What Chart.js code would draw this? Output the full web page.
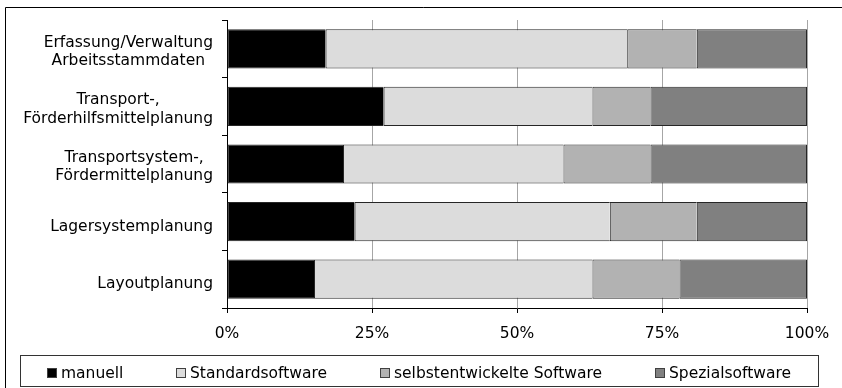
<!DOCTYPE html>
<html>
<head>
<meta charset="utf-8">
<script src="https://cdn.jsdelivr.net/npm/chart.js@4/dist/chart.umd.min.js"></script>
<style>
  html, body { margin: 0; padding: 0; background: #fff; overflow: hidden; }
  canvas { display: block; }
</style>
</head>
<body>
<canvas id="chart" width="842" height="388"></canvas>
<script>
// Planning tasks (one bar each) and the share of each tool type, in percent
const categories = [
  ['Erfassung/Verwaltung', 'Arbeitsstammdaten'],
  ['Transport-,', 'Förderhilfsmittelplanung'],
  ['Transportsystem-,', 'Fördermittelplanung'],
  ['Lagersystemplanung'],
  ['Layoutplanung']
];
const seriesNames = ['manuell', 'Standardsoftware', 'selbstentwickelte Software', 'Spezialsoftware'];
const manuell          = [17, 27, 20, 22, 15];
const standardsoftware = [52, 36, 38, 44, 48];
const selbstentwickelt = [12, 10, 15, 15, 15];
const spezialsoftware  = [19, 27, 27, 19, 22];
const xTicks = [0, 25, 50, 75, 100];

const seriesColors = ['#000000', '#dcdcdc', '#b2b2b2', '#808080'];
const FONT_FAMILY = 'DejaVu Sans, Verdana, sans-serif';
const FONT_SIZE = 15.5;
const FONT = FONT_SIZE + 'px ' + FONT_FAMILY;

Chart.defaults.font.family = FONT_FAMILY;
Chart.defaults.font.size = FONT_SIZE;
Chart.defaults.color = '#000';

// White page, outer frame (top and left edges)
const framePlugin = {
  id: 'frame',
  beforeDraw(chart) {
    const ctx = chart.ctx;
    ctx.save();
    ctx.fillStyle = '#fff';
    ctx.fillRect(0, 0, chart.width, chart.height);
    ctx.strokeStyle = '#000';
    ctx.lineWidth = 1;
    ctx.beginPath();
    ctx.moveTo(5.5, chart.height);
    ctx.lineTo(5.5, 7.5);
    ctx.lineTo(chart.width, 7.5);
    ctx.stroke();
    ctx.restore();
  }
};

// Category labels: each label block right-aligned, its lines centred on each other
const categoryLabelPlugin = {
  id: 'categoryLabels',
  afterDraw(chart) {
    const ctx = chart.ctx;
    const y = chart.scales.y;
    const right = y.right - 14;
    const lineHeight = 18.3;
    ctx.save();
    ctx.font = FONT;
    ctx.fillStyle = '#000';
    ctx.textAlign = 'center';
    ctx.textBaseline = 'alphabetic';
    chart.data.labels.forEach((lines, i) => {
      const w = Math.max(...lines.map(t => ctx.measureText(t).width));
      const cx = right - w / 2;
      const cy = y.getPixelForValue(i);
      const n = lines.length;
      const base = cy + (n === 1 ? 9.2 : 7);
      lines.forEach((t, k) => {
        ctx.fillText(t, cx, base + (k - (n - 1) / 2) * lineHeight);
      });
    });
    ctx.restore();
  }
};

// Boxed legend below the axis
const boxedLegendPlugin = {
  id: 'boxedLegend',
  afterDraw(chart) {
    const ctx = chart.ctx;
    const boxL = 20, boxR = chart.width - 24, boxT = chart.height - 33, boxB = chart.height - 2;
    const marker = 10, textGap = 4, itemGap = 53;
    ctx.save();
    ctx.font = FONT;
    ctx.strokeStyle = '#333';
    ctx.lineWidth = 1;
    ctx.strokeRect(boxL + 0.5, boxT + 0.5, boxR - boxL, boxB - boxT);
    const items = chart.data.datasets.map(ds => ({
      text: ds.label, color: ds.backgroundColor,
      w: marker + textGap + ctx.measureText(ds.label).width
    }));
    const total = items.reduce((s, it) => s + it.w, 0) + itemGap * (items.length - 1);
    let x = (boxL + boxR) / 2 - total / 2;
    const baseline = boxB - 8;
    items.forEach(it => {
      const mx = Math.round(x);
      ctx.fillStyle = it.color;
      ctx.fillRect(mx, baseline - marker, marker, marker);
      ctx.strokeStyle = '#404040';
      ctx.strokeRect(mx + 0.5, baseline - marker + 0.5, marker - 1, marker - 1);
      ctx.fillStyle = '#000';
      ctx.textAlign = 'left';
      ctx.textBaseline = 'alphabetic';
      ctx.fillText(it.text, mx + marker + textGap, baseline);
      x += it.w + itemGap;
    });
    ctx.restore();
  }
};

const seriesValues = [manuell, standardsoftware, selbstentwickelt, spezialsoftware];
const lastSeries = seriesNames.length - 1;

new Chart(document.getElementById('chart'), {
  type: 'bar',
  data: {
    labels: categories,
    datasets: seriesNames.map((name, i) => ({
      label: name,
      data: seriesValues[i],
      backgroundColor: seriesColors[i],
      borderColor: '#262626',
      // one shared divider between neighbouring segments
      borderWidth: { top: 1, bottom: 1, left: 1, right: i === lastSeries ? 1 : 0 },
      borderSkipped: false,
      categoryPercentage: 1,
      barPercentage: 0.68
    }))
  },
  options: {
    indexAxis: 'y',
    responsive: false,
    animation: false,
    events: [],
    layout: { padding: { top: 20, right: 35, bottom: 40, left: 0 } },
    plugins: {
      legend: { display: false },
      tooltip: { enabled: false },
      title: { display: false }
    },
    scales: {
      x: {
        type: 'linear',
        stacked: true,
        min: 0,
        max: 100,
        position: 'bottom',
        afterBuildTicks: s => { s.ticks = xTicks.map(v => ({ value: v })); },
        afterFit: s => { s.height = 40; },
        grid: { color: '#a6a6a6', tickColor: '#000', tickLength: 5, lineWidth: 1 },
        border: { color: '#000', width: 1 },
        ticks: {
          color: '#000',
          padding: 12,
          maxRotation: 0,
          autoSkip: false,
          callback: v => v + '%'
        }
      },
      y: {
        type: 'category',
        stacked: true,
        offset: true,
        afterFit: s => { s.width = 227; },
        grid: { offset: true, drawOnChartArea: false, tickColor: '#000', tickLength: 5 },
        border: { color: '#000', width: 1 },
        ticks: { display: false }
      }
    }
  },
  plugins: [framePlugin, categoryLabelPlugin, boxedLegendPlugin]
});
</script>
</body>
</html>
